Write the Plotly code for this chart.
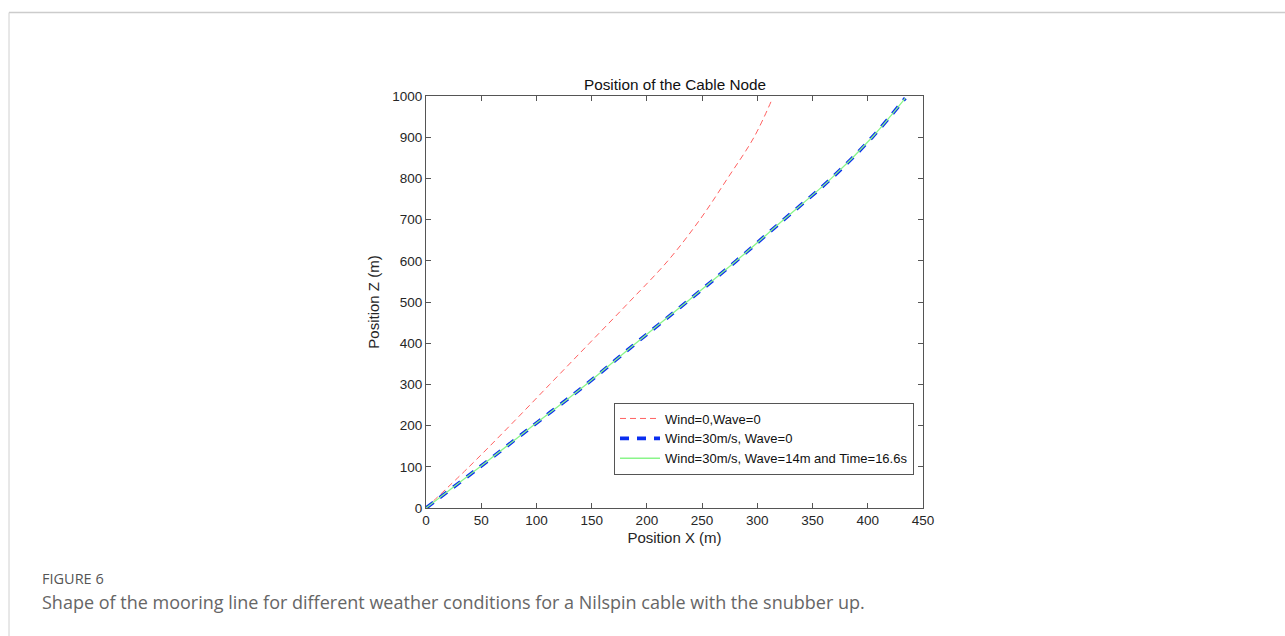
import plotly.graph_objects as go

# Data (x in m, z in m)
z_calm = [0, 100, 200, 300, 400, 500, 600, 700, 800, 900, 990]
x_calm = [0, 39, 76, 112, 148, 184, 219, 248, 273, 297, 313]

z_wind = [0, 100, 200, 300, 400, 500, 600, 700, 800, 900, 995]
x_wind = [0, 49, 97, 145, 190, 236, 281, 324, 367, 404, 434]

z_wave = [0, 100, 200, 300, 400, 500, 600, 700, 800, 900, 995]
x_wave = [0, 49, 97, 145, 190, 236, 281, 324, 367, 404, 434]

names = ["Wind=0,Wave=0", "Wind=30m/s, Wave=0", "Wind=30m/s, Wave=14m and Time=16.6s"]
x_ticks = [0, 50, 100, 150, 200, 250, 300, 350, 400, 450]
y_ticks = [0, 100, 200, 300, 400, 500, 600, 700, 800, 900, 1000]

W, H = 1285, 636
L, R, T, B = 426, 923, 96, 508
pw, ph = R - L, B - T

def px(x):
    return (x - L) / pw

def py(y):
    return (B - y) / ph

FONT = "Liberation Sans, Arial"

fig = go.Figure()
fig.add_trace(go.Scatter(x=x_calm, y=z_calm, mode="lines", name=names[0],
                         line=dict(color="#ff6060", width=1, dash="6px,4px", shape="spline")))
fig.add_trace(go.Scatter(x=x_wind, y=z_wind, mode="lines", name=names[1],
                         line=dict(color="#0a2ef0", width=3.6, dash="9px,8px", shape="spline")))
fig.add_trace(go.Scatter(x=x_wave, y=z_wave, mode="lines", name=names[2],
                         line=dict(color="#8af58a", width=1.3, shape="spline")))

axis_common = dict(showgrid=False, zeroline=False, showline=True, linecolor="#555555",
                   linewidth=1, mirror="ticks", ticks="inside", ticklen=5, tickcolor="#555555",
                   tickfont=dict(family=FONT, size=13.5, color="#262626"))

fig.update_xaxes(range=[0, 450], tickvals=x_ticks, ticktext=[str(v) for v in x_ticks],
                 title=dict(text="Position X (m)", standoff=5,
                            font=dict(family=FONT, size=15, color="#262626")),
                 **axis_common)
fig.update_yaxes(range=[0, 1000], tickvals=y_ticks, ticktext=[str(v) for v in y_ticks],
                 title=dict(text="Position Z (m)", standoff=9,
                            font=dict(family=FONT, size=15, color="#262626")),
                 **axis_common)

shapes = [
    dict(type="line", xref="paper", yref="paper", x0=px(9), x1=px(W + 5), y0=py(12.5), y1=py(12.5),
         line=dict(color="#cccccc", width=1.5)),
    dict(type="line", xref="paper", yref="paper", x0=px(9), x1=px(9), y0=py(12.5), y1=py(H + 5),
         line=dict(color="#d0d0d0", width=1)),
]

annotations = [
    dict(text="Position of the Cable Node", xref="paper", yref="paper", x=0.5, y=py(84),
         xanchor="center", yanchor="middle", showarrow=False,
         font=dict(family=FONT, size=15.3, color="#111111")),
    dict(text="FIGURE 6", xref="paper", yref="paper", x=px(40), y=py(578),
         xanchor="left", yanchor="middle", showarrow=False,
         font=dict(family="Open Sans", size=14.5, color="#555555")),
    dict(text="Shape of the mooring line for different weather conditions for a Nilspin cable with the snubber up.",
         xref="paper", yref="paper", x=px(40), y=py(602),
         xanchor="left", yanchor="middle", showarrow=False,
         font=dict(family="Open Sans", size=18, color="#666666")),
]

fig.update_layout(
    width=W, height=H,
    margin=dict(l=L, r=W - R, t=T, b=H - B),
    paper_bgcolor="white", plot_bgcolor="white",
    shapes=shapes, annotations=annotations,
    showlegend=True,
    legend=dict(x=px(914), y=py(438.5), xanchor="right", yanchor="middle",
                bgcolor="white", bordercolor="#555555", borderwidth=1,
                font=dict(family=FONT, size=13, color="#111111"),
                tracegroupgap=0, itemwidth=40),
)

fig.write_html("out.html")
